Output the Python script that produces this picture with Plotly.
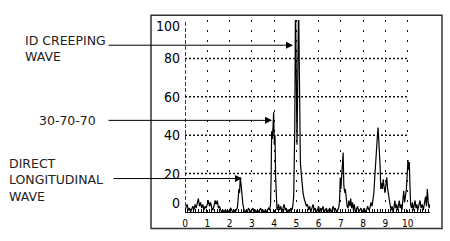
import plotly.graph_objects as go

# ---------------- data ----------------
sig_x = [0.00, 0.05, 0.10, 0.15, 0.20, 0.25, 0.30, 0.35, 0.40, 0.45, 0.50, 0.55, 0.60, 0.65, 0.70, 0.75,
         0.80, 0.85, 0.90, 0.95, 1.00, 1.05, 1.10, 1.15, 1.20, 1.25, 1.30, 1.35, 1.40, 1.45, 1.50, 1.55,
         1.60, 1.65, 1.70, 1.75, 1.80, 1.85, 1.90, 1.95, 2.00, 2.05, 2.10, 2.15, 2.20, 2.25, 2.30, 2.35,
         2.38, 2.42, 2.45, 2.48, 2.52, 2.56, 2.60, 2.65, 2.70, 2.75, 2.80,
         2.85, 2.90, 2.95, 3.00, 3.05, 3.10, 3.15, 3.20, 3.25, 3.30, 3.35, 3.40, 3.45, 3.50, 3.55, 3.60,
         3.65, 3.70, 3.75, 3.80,
         3.84, 3.87, 3.89, 3.92, 3.95, 3.98, 4.01, 4.04, 4.07, 4.10, 4.13,
         4.17, 4.20, 4.25, 4.30, 4.35, 4.40, 4.45, 4.50, 4.55, 4.60, 4.65, 4.70, 4.75, 4.80, 4.84,
         4.88, 4.91, 4.93, 4.96, 5.03, 5.10, 5.14, 5.18, 5.22, 5.26, 5.30, 5.35, 5.40, 5.45, 5.50,
         5.55, 5.60, 5.65, 5.70, 5.75, 5.80, 5.85, 5.90, 5.95, 6.00, 6.05, 6.10, 6.15, 6.20, 6.25, 6.30,
         6.35, 6.40, 6.45, 6.50, 6.55, 6.60, 6.65, 6.70, 6.75, 6.80, 6.85, 6.90,
         6.94, 6.97, 7.00, 7.03, 7.07, 7.10, 7.13, 7.17, 7.20, 7.24, 7.28,
         7.32, 7.36, 7.40, 7.44, 7.48, 7.52, 7.56, 7.60, 7.65, 7.70, 7.75, 7.80, 7.85, 7.90, 7.95, 8.00,
         8.05, 8.10, 8.15, 8.20, 8.25, 8.30, 8.35, 8.40, 8.44,
         8.48, 8.52, 8.56, 8.60, 8.64, 8.67, 8.70, 8.73, 8.76, 8.79, 8.82, 8.86, 8.90, 8.94, 8.98, 9.02,
         9.06, 9.10, 9.14, 9.18, 9.22,
         9.26, 9.30, 9.34, 9.38, 9.42, 9.46, 9.50, 9.54, 9.58, 9.62, 9.66, 9.70, 9.74, 9.78, 9.82, 9.86,
         9.90, 9.94,
         9.98, 10.01, 10.04, 10.07, 10.10, 10.13,
         10.17, 10.21, 10.25, 10.29, 10.33, 10.37, 10.41, 10.45, 10.50, 10.55, 10.60, 10.65, 10.70, 10.75,
         10.80, 10.84, 10.88, 10.92, 10.96, 11.00]
sig_y = [1, 3, 4, 1, 2, 0, 2, 3, 1, 4, 2, 5, 7, 3, 5, 2,
         4, 1, 3, 2, 4, 6, 3, 5, 2, 1, 3, 6, 4, 6, 2, 3,
         1, 0, 1, 0, 1, 0, 1, 0, 1, 2, 1, 0, 1, 0, 1, 2,
         6, 12, 10, 18, 14, 8, 4, 1, 0, 1, 0,
         2, 1, 0, 1, 2, 0, 1, 0, 1, 0, 1, 2, 0, 1, 0, 1,
         0, 1, 2, 1,
         4, 20, 42, 38, 44, 52, 35, 40, 18, 6, 1,
         2, 4, 1, 3, 0, 2, 4, 1, 2, 0, 1, 0, 2, 1, 3,
         8, 22, 45, 110, 35, 110, 45, 26, 20, 14, 10, 7, 5, 3, 4,
         1, 3, 0, 2, 4, 1, 2, 0, 1, 3, 0, 2, 1, 3, 0, 1,
         2, 0, 1, 2, 0, 1, 3, 1, 2, 0, 1, 2,
         6, 18, 12, 20, 28, 31, 14, 10, 12, 6, 3,
         2, 6, 3, 7, 2, 5, 1, 4, 0, 2, 3, 0, 1, 2, 0, 1,
         2, 0, 1, 3, 1, 2, 5, 3, 6,
         10, 18, 28, 34, 40, 44, 38, 30, 24, 12, 15, 12, 17, 13, 10, 14,
         18, 12, 8, 5, 3,
         1, 3, 0, 2, 6, 2, 4, 1, 3, 6, 2, 4, 1, 7, 11, 5,
         9, 12,
         20, 27, 22, 26, 14, 4,
         2, 5, 1, 4, 6, 2, 4, 1, 3, 6, 2, 4, 1, 5,
         8, 3, 12, 5, 2, 4]

x_ticks = [0, 1, 2, 3, 4, 5, 6, 7, 8, 9, 10]
y_ticks = [0, 20, 40, 60, 80, 100]
y_grid = [20, 40, 60, 80]

# ---------------- layout geometry ----------------
W, H = 450, 241
L, R, T, B = 185, 20, 20, 23


def pxx(px):
    return (px - L) / (W - L - R)


def pxy(py):
    return (H - B - py) / (H - T - B)


fig = go.Figure()
fig.add_trace(go.Scatter(x=sig_x, y=sig_y, mode="lines",
                         line=dict(color="black", width=1.2),
                         hoverinfo="skip", showlegend=False))

tick_family = "Liberation Sans Narrow, DejaVu Sans Condensed, Arial Narrow, sans-serif"

fig.update_xaxes(range=[0, 11], tickvals=x_ticks, ticktext=[str(v) for v in x_ticks],
                 showgrid=True, gridcolor="#111", gridwidth=1, griddash="2px,8px",
                 zeroline=False, showline=True, linecolor="black", linewidth=1,
                 ticks="", ticklabelstandoff=2,
                 tickfont=dict(size=10, family=tick_family, color="black"),
                 minor=dict(ticks="inside", ticklen=3, dtick=0.12, tickcolor="black",
                            tickwidth=1, showgrid=False),
                 fixedrange=True)
fig.update_yaxes(range=[0, 100], showticklabels=False,
                 showgrid=False, zeroline=False, showline=False, ticks="", fixedrange=True)

shapes = []
for v in y_grid:
    shapes.append(dict(type="line", xref="x", yref="y", x0=x_ticks[0], x1=x_ticks[-1], y0=v, y1=v,
                       line=dict(color="#111", width=1.5, dash="2px,2px"), layer="below"))
# dashed y-axis line
shapes.append(dict(type="line", xref="x", yref="y", x0=0, x1=0, y0=y_ticks[0], y1=y_ticks[-1],
                   line=dict(color="black", width=1.5, dash="4px,2px")))
# outer frame
shapes.append(dict(type="rect", xref="paper", yref="paper",
                   x0=pxx(151), x1=pxx(442), y0=pxy(235), y1=pxy(15),
                   line=dict(color="#333", width=1.5)))

annotations = []
# y tick labels (the end labels sit slightly inside the range, as in the scan)
y_label_shift = {0: 9, 100: -6}
for v in y_ticks:
    annotations.append(dict(text=str(v), xref="paper", yref="y", x=pxx(182), y=v,
                            yshift=y_label_shift.get(v, 0), xanchor="right", yanchor="middle",
                            showarrow=False,
                            font=dict(size=14, family=tick_family, color="black")))

label_font = dict(family="DejaVu Sans, sans-serif", size=12.5, color="#222")
texts = [  # text, left px, block-centre px
    ("ID CREEPING<br>WAVE", 23, 49),
    ("30-70-70", 37, 124),
    ("DIRECT<br>LONGITUDINAL<br>WAVE", 7, 185),
]
for t, px, py in texts:
    annotations.append(dict(text=t, xref="paper", yref="paper", x=pxx(px), y=pxy(py),
                            xanchor="left", yanchor="middle", align="left",
                            showarrow=False, font=label_font))

arrows = [  # tail px, tail py, head px, head py
    (107, 46, 293, 46),
    (107, 123.5, 272, 123.5),
    (112, 183.5, 242, 183.5),
]
for tx, ty, hx, hy in arrows:
    annotations.append(dict(text="", xref="paper", yref="paper", x=pxx(hx), y=pxy(hy),
                            ax=tx - hx, ay=ty - hy, axref="pixel", ayref="pixel",
                            showarrow=True, arrowhead=2, arrowsize=1.4, arrowwidth=1,
                            arrowcolor="black", standoff=0))

fig.update_layout(width=W, height=H, margin=dict(l=L, r=R, t=T, b=B, pad=0),
                  paper_bgcolor="white", plot_bgcolor="white",
                  shapes=shapes, annotations=annotations, showlegend=False)

fig.write_html("out.html")
